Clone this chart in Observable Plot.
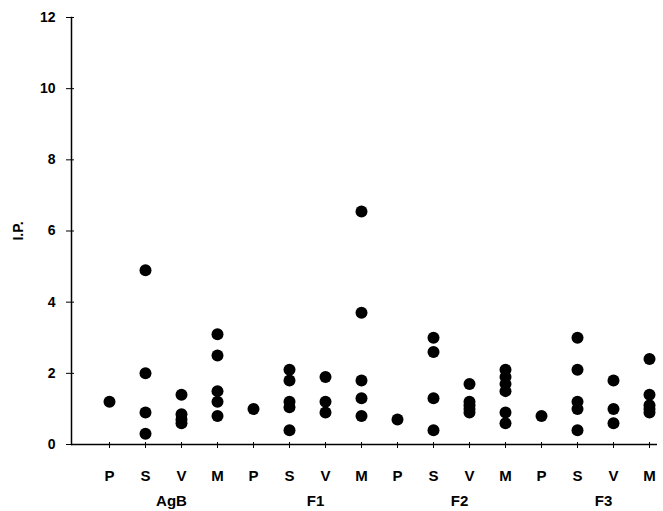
<!DOCTYPE html>
<html>
<head>
<meta charset="utf-8">
<script src="https://cdn.jsdelivr.net/npm/d3@7"></script>
<script src="https://cdn.jsdelivr.net/npm/@observablehq/plot@0.6"></script>
<style>
  html, body { margin: 0; padding: 0; background: white; }
</style>
</head>
<body>
<div id="chart"></div>
<script>
const groups = ["AgB", "F1", "F2", "F3"];
const antigens = ["P", "S", "V", "M"];
const yTicks = [0, 2, 4, 6, 8, 10, 12];

const agbP = [1.2];
const agbS = [4.9, 2.0, 0.9, 0.3];
const agbV = [1.4, 0.85, 0.7, 0.6];
const agbM = [3.1, 2.5, 1.5, 1.2, 0.8];

const f1P = [1.0];
const f1S = [2.1, 1.8, 1.2, 1.05, 0.4];
const f1V = [1.9, 1.2, 0.9];
const f1M = [6.55, 3.7, 1.8, 1.3, 0.8];

const f2P = [0.7];
const f2S = [3.0, 2.6, 1.3, 0.4];
const f2V = [1.7, 1.2, 1.1, 1.0, 0.9];
const f2M = [2.1, 1.9, 1.7, 1.5, 0.9, 0.6];

const f3P = [0.8];
const f3S = [3.0, 2.1, 1.2, 1.0, 0.4];
const f3V = [1.8, 1.0, 0.6];
const f3M = [2.4, 1.4, 1.1, 1.0, 0.9];

const values = {
  AgB: [agbP, agbS, agbV, agbM],
  F1: [f1P, f1S, f1V, f1M],
  F2: [f2P, f2S, f2V, f2M],
  F3: [f3P, f3S, f3V, f3M]
};

const keys = groups.flatMap(g => antigens.map(a => g + "-" + a));
const data = groups.flatMap(g =>
  antigens.flatMap((a, i) => values[g][i].map(v => ({key: g + "-" + a, value: v})))
);

const chart = Plot.plot({
  width: 663,
  height: 511,
  marginLeft: 71,
  marginRight: 6,
  marginTop: 17,
  marginBottom: 67,
  style: {
    fontFamily: "'Liberation Sans', Arial, sans-serif",
    fontSize: "14px",
    fontWeight: "bold",
    background: "white",
    color: "black"
  },
  x: {type: "point", domain: keys, range: [107, 650], padding: 0},
  y: {domain: [0, 12]},
  marks: [
    Plot.frame({anchor: "left", strokeWidth: 1.5}),
    Plot.ruleY([0], {strokeWidth: 1.5}),
    Plot.axisY({
      ticks: yTicks, tickSize: 8, dx: 3, tickPadding: 11, fontSize: 14,
      label: "I.P.", labelAnchor: "center", labelArrow: "none", labelOffset: 58
    }),
    Plot.axisX({
      tickSize: 6, dy: -2, tickPadding: 22, fontSize: 15,
      tickFormat: k => k.split("-")[1], label: null
    }),
    Plot.dot(data, {x: "key", y: "value", r: 6, fill: "black"}),
    Plot.text(groups, {x: g => g + "-S", y: () => 0, dx: 26, dy: 57, fontSize: 15, text: d => d})
  ]
});
document.getElementById("chart").append(chart);
</script>
</body>
</html>
